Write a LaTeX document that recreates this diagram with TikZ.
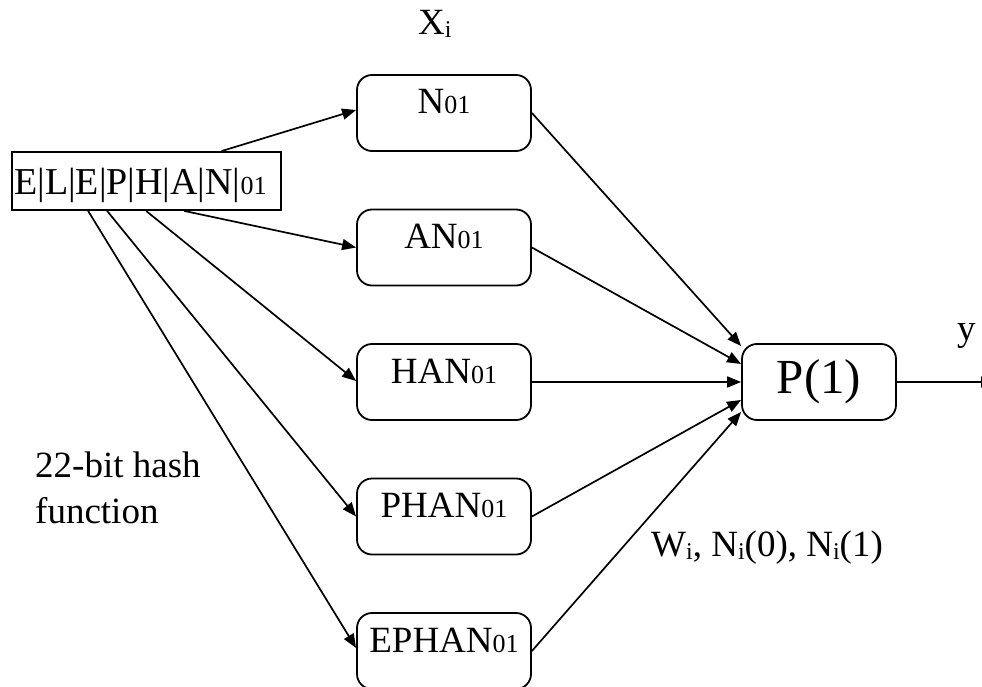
\documentclass[tikz,border=0pt]{standalone}
\usepackage{fontspec}
\setmainfont{Liberation Serif}
\usetikzlibrary{arrows.meta}
\newcommand\smd[1]{{\fontsize{26}{30}\selectfont #1}}
\newcommand\subi{\raisebox{-3pt}{\fontsize{24}{28}\selectfont i}}
\tikzset{
 box/.style={draw, line width=1.8pt, rounded corners=15pt, minimum width=174pt, minimum height=76pt, inner sep=0pt, text height=21pt, text depth=19pt, font=\fontsize{37}{44}\selectfont},
 lbl/.style={font=\fontsize{37}{44}\selectfont, inner sep=0pt, anchor=base west},
 conn/.style={line width=1.7pt, -{Triangle[length=14pt,width=11pt]}},
}
\begin{document}
\begin{tikzpicture}[x=1pt,y=-1pt]
\useasboundingbox (0,0) rectangle (982,687);
% input box
\node[draw, line width=1.8pt, minimum width=269pt, minimum height=58pt, inner sep=0pt] (el) at (146.5,181) {};
\node[lbl, font=\fontsize{38}{44}\selectfont] (elt) at (14,195) {E|L|E|P|H|A|N|\smd{01}};
% context boxes
\node[box] (n1) at (444,113) {N\smd{01}};
\node[box] (n2) at (444,247.5) {AN\smd{01}};
\node[box] (n3) at (444,382) {HAN\smd{01}};
\node[box] (n4) at (444,516.5) {PHAN\smd{01}};
\node[box] (n5) at (444,651) {EPHAN\smd{01}};
% output box
\node[box, minimum width=154pt, font=\fontsize{49}{56}\selectfont, text height=35pt, text depth=13pt] (p) at (819,382) {P(1)};
% labels
\node[lbl] (xi) at (418,35) {X\subi};
\node[lbl] (yl) at (957,340) {y};
\node[lbl] (h1) at (35,477) {22-bit hash};
\node[lbl] (h2) at (35,523) {function};
\node[lbl] (wl) at (651,556) {W\subi, N\subi(0), N\subi(1)};
% connectors from input
\draw[conn] ([xshift=75pt]el.north) -- ([yshift=3pt]n1.west);
\draw[conn] ([xshift=173pt]el.south west) -- (n2.west);
\draw[conn] ([xshift=135pt]el.south west) -- ([yshift=1pt]n3.west);
\draw[conn] ([xshift=96pt]el.south west) -- (n4.west);
\draw[conn] ([xshift=77pt]el.south west) -- ([yshift=3pt]n5.west);
% connectors to P(1)
\draw[conn] (n1.east) -- ([yshift=36pt]p.west);
\draw[conn] (n2.east) -- ([yshift=18pt]p.west);
\draw[conn] (n3.east) -- (p.west);
\draw[conn] (n4.east) -- ([yshift=-18pt]p.west);
\draw[conn] (n5.east) -- ([yshift=-30pt]p.west);
% output
\coordinate (out) at (995,382);
\draw[conn] (p.east) -- (out);
\end{tikzpicture}
\end{document}
